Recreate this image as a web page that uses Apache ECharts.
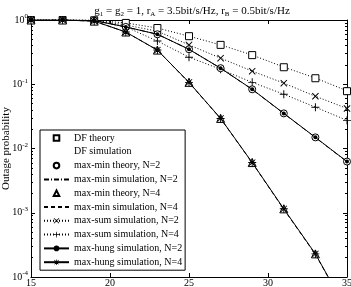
<!DOCTYPE html>
<html style="height: 100%">
<head>
    <meta charset="utf-8">
    <title>Outage probability</title>
    <script type="text/javascript" src="https://cdn.jsdelivr.net/npm/echarts@6/dist/echarts.min.js"></script>
</head>
<body style="height: 100%; margin: 0; background: #fff">
    <div id="container" style="width: 351px; height: 287px"></div>
    <script type="text/javascript">
        // SNR points (x axis)
        var snr = [15, 17, 19, 21, 23, 25, 27, 29, 31, 33, 35];
        var dfTheory   = [1, 1, 0.99, 0.90, 0.75, 0.56, 0.41, 0.284, 0.184, 0.124, 0.078];
        var dfSim      = [1, 1, 0.99, 0.90, 0.75, 0.56, 0.41, 0.285, 0.185, 0.125, 0.079];
        var mmTheory2  = [1, 1, 0.98, 0.78, 0.60, 0.35, 0.178, 0.0835, 0.0352, 0.0149, 0.00626];
        var mmSim2     = [1, 1, 0.98, 0.78, 0.60, 0.35, 0.177, 0.0830, 0.0350, 0.0148, 0.00620];
        var mmTheory4  = [1, 0.999, 0.96, 0.65, 0.34, 0.107, 0.0294, 0.00604, 0.00115, 0.000229, 0.00003];
        var mmSim4     = [1, 0.999, 0.96, 0.65, 0.34, 0.106, 0.0292, 0.00600, 0.00113, 0.000225, 0.00003];
        var maxSum2    = [1, 1, 0.99, 0.835, 0.67, 0.41, 0.255, 0.16, 0.104, 0.065, 0.042];
        var maxSum4    = [1, 1, 0.98, 0.78, 0.47, 0.264, 0.171, 0.107, 0.070, 0.044, 0.0274];
        var maxHung2   = [1, 1, 0.98, 0.78, 0.60, 0.35, 0.178, 0.0835, 0.0352, 0.0149, 0.00626];
        var maxHung4   = [1, 0.999, 0.96, 0.65, 0.34, 0.107, 0.0294, 0.00604, 0.00115, 0.000229, 0.00003];

        // minor log ticks 2..9 in each decade
        var yMinor = [];
        for (var d = -4; d < 0; d++) {
            for (var m = 2; m <= 9; m++) yMinor.push(m * Math.pow(10, d));
        }

        var serif = 'Liberation Serif';
        var crossPath = 'path://M1,0 L5,4 L9,0 L10,1 L6,5 L10,9 L9,10 L5,6 L1,10 L0,9 L4,5 L0,1 Z';
        var plusPath = 'path://M4.4,0 H5.6 V4.4 H10 V5.6 H5.6 V10 H4.4 V5.6 H0 V4.4 H4.4 Z';
        var starPath = 'path://M4.4,0 H5.6 V4.4 H10 V5.6 H5.6 V10 H4.4 V5.6 H0 V4.4 H4.4 Z M1.5,0.7 L5,4.2 L8.5,0.7 L9.3,1.5 L5.8,5 L9.3,8.5 L8.5,9.3 L5,5.8 L1.5,9.3 L0.7,8.5 L4.2,5 L0.7,1.5 Z';

        function pts(arr) {
            return snr.map(function (x, i) { return [x, arr[i]]; });
        }
        var hollow = { color: '#fff', borderColor: '#000', borderWidth: 1 };
        var solid = { color: '#000' };
        var clear = { color: 'rgba(0,0,0,0)' };

        var dom = document.getElementById('container');
        var myChart = echarts.init(dom, null, { renderer: 'canvas' });

        function tickAxis(pos, minor) {
            return {
                type: 'log', min: 1e-4, max: 1, position: pos,
                axisLine: { show: !minor, onZero: false, lineStyle: { color: '#000', width: 1 } },
                axisTick: minor
                    ? { inside: true, length: 2, customValues: yMinor, lineStyle: { color: '#000' } }
                    : { inside: true, length: 4, lineStyle: { color: '#000' } },
                axisLabel: { show: false },
                splitLine: { show: false }
            };
        }

        // line only series (no markers)
        function lineOnly(name, arr, type) {
            return {
                name: name, type: 'line', data: pts(arr),
                symbol: 'circle', symbolSize: 1, showSymbol: false, itemStyle: clear,
                lineStyle: { color: '#000', width: 1, type: type }
            };
        }

        var option = {
            animation: false,
            title: {
                text: '{t|g}{s|1}{t| = g}{s|2}{t| = 1, r}{s|A}{t| = 3.5bit/s/Hz, r}{s|B}{t| = 0.5bit/s/Hz}',
                left: 187, textAlign: 'center', top: 0,
                textStyle: {
                    rich: {
                        t: { fontFamily: serif, fontSize: 11, fontWeight: 'normal', color: '#000' },
                        s: { fontFamily: serif, fontSize: 7, fontWeight: 'normal', color: '#000', padding: [6, 0, 0, 0] }
                    }
                }
            },
            grid: { left: 31, right: 4, top: 20, bottom: 10, containLabel: false, outerBoundsMode: 'none' },
            xAxis: [{
                type: 'value', min: 15, max: 35, interval: 5, position: 'bottom',
                axisLine: { onZero: false, lineStyle: { color: '#000', width: 1 } },
                axisTick: { inside: true, length: 4, lineStyle: { color: '#000' } },
                axisLabel: { fontFamily: serif, fontSize: 10, color: '#000', margin: 1 },
                splitLine: { show: false }
            }, {
                type: 'value', min: 15, max: 35, interval: 5, position: 'top',
                axisLine: { onZero: false, lineStyle: { color: '#000', width: 1 } },
                axisTick: { inside: true, length: 4, lineStyle: { color: '#000' } },
                axisLabel: { show: false },
                splitLine: { show: false }
            }],
            yAxis: [{
                type: 'log', min: 1e-4, max: 1, position: 'left',
                name: 'Outage probability', nameLocation: 'middle', nameGap: 19,
                nameMoveOverlap: false,
                nameTextStyle: { fontFamily: serif, fontSize: 11, color: '#000' },
                axisLine: { onZero: false, lineStyle: { color: '#000', width: 1 } },
                axisTick: { inside: true, length: 4, lineStyle: { color: '#000' } },
                axisLabel: {
                    margin: 3,
                    formatter: function (v) {
                        return '{b|10}{p|' + Math.round(Math.log10(v)) + '}';
                    },
                    rich: {
                        b: { fontFamily: serif, fontSize: 10, color: '#000' },
                        p: { fontFamily: serif, fontSize: 7, color: '#000', padding: [0, 0, 7, 0] }
                    }
                },
                splitLine: { show: false }
            },
                tickAxis('right', false),
                tickAxis('left', true),
                tickAxis('right', true)
            ],
            legend: {
                orient: 'vertical', left: 40, top: 130,
                backgroundColor: '#fff', borderColor: '#000', borderWidth: 1,
                padding: [2, 3, 2, 3],
                itemWidth: 25, itemHeight: 7, itemGap: 1.8,
                textStyle: { fontFamily: serif, fontSize: 10, lineHeight: 12, color: '#000' },
                data: [
                    'DF theory',
                    { name: 'DF simulation', icon: 'none' },
                    'max-min theory, N=2', 'max-min simulation, N=2',
                    'max-min theory, N=4', 'max-min simulation, N=4',
                    'max-sum simulation, N=2', 'max-sum simulation, N=4',
                    'max-hung simulation, N=2', 'max-hung simulation, N=4'
                ]
            },
            series: [
                {
                    name: 'DF theory', type: 'line', data: pts(dfTheory),
                    symbol: 'rect', symbolSize: 7, itemStyle: hollow,
                    lineStyle: { width: 0, opacity: 0 }, z: 5
                },
                lineOnly('DF simulation', dfSim, [1, 2]),
                {
                    name: 'max-min theory, N=2', type: 'line', data: pts(mmTheory2),
                    symbol: 'circle', symbolSize: 7, itemStyle: hollow,
                    lineStyle: { width: 0, opacity: 0 }, z: 5
                },
                lineOnly('max-min simulation, N=2', mmSim2, [5, 2, 1, 2]),
                {
                    name: 'max-min theory, N=4', type: 'line', data: pts(mmTheory4),
                    symbol: 'triangle', symbolSize: 8, itemStyle: hollow,
                    lineStyle: { width: 0, opacity: 0 }, z: 5
                },
                lineOnly('max-min simulation, N=4', mmSim4, [4, 3]),
                {
                    name: 'max-sum simulation, N=2', type: 'line', data: pts(maxSum2),
                    symbol: crossPath, symbolSize: 7, itemStyle: solid,
                    lineStyle: { color: '#000', width: 1, type: [1, 2] }
                },
                {
                    name: 'max-sum simulation, N=4', type: 'line', data: pts(maxSum4),
                    symbol: plusPath, symbolSize: 8, itemStyle: solid,
                    lineStyle: { color: '#000', width: 1, type: [1, 2] }
                },
                {
                    name: 'max-hung simulation, N=2', type: 'line', data: pts(maxHung2),
                    symbol: 'circle', symbolSize: 4, itemStyle: solid,
                    lineStyle: { color: '#000', width: 1 }, z: 6
                },
                {
                    name: 'max-hung simulation, N=4', type: 'line', data: pts(maxHung4),
                    symbol: starPath, symbolSize: 8, itemStyle: solid,
                    lineStyle: { color: '#000', width: 1 }, z: 6
                }
            ]
        };
        myChart.setOption(option, true);
    </script>
</body>
</html>
